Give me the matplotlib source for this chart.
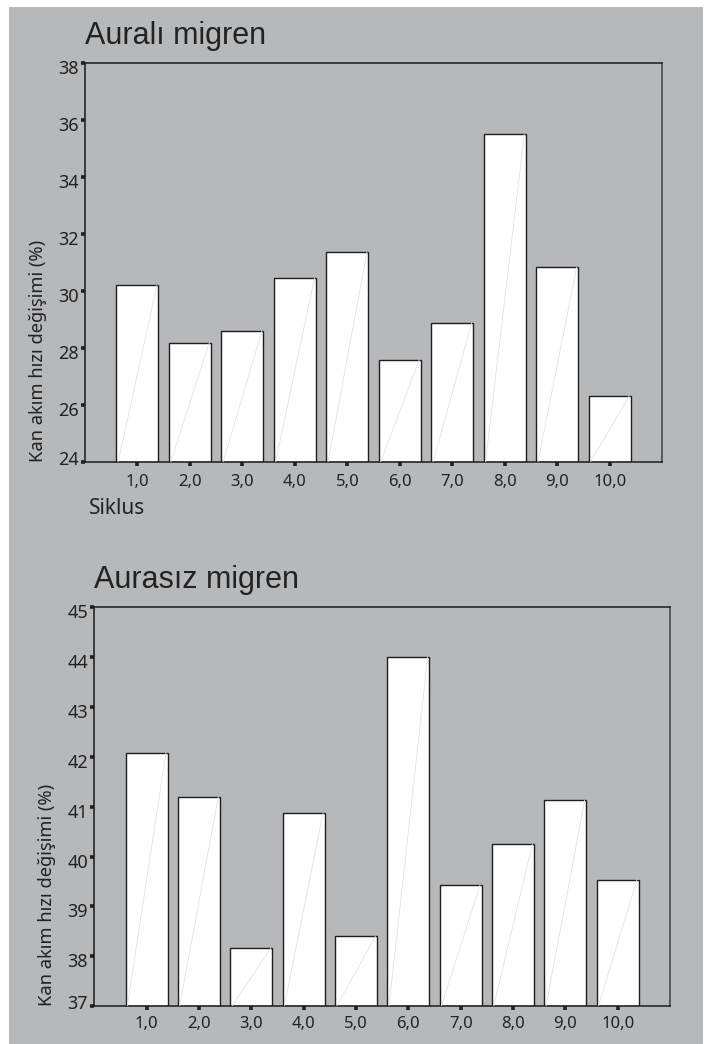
import numpy as np
import matplotlib
matplotlib.use("Agg")
import matplotlib.pyplot as plt
from matplotlib.patches import Rectangle
from matplotlib.transforms import ScaledTranslation

# ---- data ----
cycles = [1, 2, 3, 4, 5, 6, 7, 8, 9, 10]
cycle_labels = ["1,0", "2,0", "3,0", "4,0", "5,0", "6,0", "7,0", "8,0", "9,0", "10,0"]
aural_values = [30.2, 28.2, 28.6, 30.45, 31.36, 27.6, 28.9, 35.5, 30.85, 26.33]
aurasiz_values = [42.08, 41.2, 38.16, 40.87, 38.4, 44.0, 39.43, 40.25, 41.13, 39.54]
aural_yticks = [24, 26, 28, 30, 32, 34, 36, 38]
aurasiz_yticks = [37, 38, 39, 40, 41, 42, 43, 44, 45]
title_top = "Auralı migren"
title_bottom = "Aurasız migren"
ylabel_text = "Kan akım hızı değişimi (%)"
xlabel_text = "Siklus"

W, H = 711, 1044
BG = "#b7b8ba"
fig = plt.figure(figsize=(W / 100, H / 100), dpi=100, facecolor="white")
fig.patches.append(Rectangle((9 / W, 0), (703 - 9) / W, (H - 7) / H,
                             transform=fig.transFigure, facecolor=BG,
                             edgecolor="none", zorder=-10))

TICKFONT = "Noto Sans"


def px_rect(left, top, right, bottom):
    return [left / W, 1 - bottom / H, (right - left) / W, (bottom - top) / H]


def draw_panel(rect, values, yticks, title, xpad, show_xlabel):
    ax = fig.add_axes(rect)
    ax.set_facecolor(BG)
    ymin, ymax = yticks[0], yticks[-1]
    x = np.array(cycles, dtype=float)
    v = np.array(values, dtype=float)
    width = 0.8
    ax.bar(x, v - ymin, bottom=ymin, width=width, color="white",
           edgecolor="#1e1e1e", linewidth=1.0, zorder=2)
    # faint diagonal rendering artefact inside each bar
    for xi, vi in zip(x, v):
        ax.plot([xi - width / 2 + 0.03, xi + width / 2 - 0.03], [ymin, vi],
                color="#e2e2e2", lw=0.6, zorder=3)
    ax.set_xlim(0, 11)
    ax.set_ylim(ymin, ymax)
    ax.set_xticks(cycles)
    ax.set_xticklabels(cycle_labels)
    ax.set_yticks(yticks)
    ax.set_yticklabels([str(t) for t in yticks])
    for side in ["left", "bottom", "top"]:
        ax.spines[side].set_color("#1a1a1a")
        ax.spines[side].set_linewidth(1.1)
    ax.spines["right"].set_color("#5a5a5a")
    ax.spines["right"].set_linewidth(1.4)
    ax.tick_params(axis="both", direction="out", length=3, width=2.6,
                   color="#202020", labelcolor="#222222")
    ax.tick_params(axis="y", pad=1.5, labelsize=13)
    ax.tick_params(axis="x", pad=xpad, labelsize=12)
    for lbl in ax.get_xticklabels() + ax.get_yticklabels():
        lbl.set_fontfamily(TICKFONT)
    ylabels = ax.get_yticklabels()
    for i, lbl in enumerate(ylabels):
        dy = 4.5 if i == 0 else -4.0
        lbl.set_transform(lbl.get_transform() + ScaledTranslation(0, dy / 100, fig.dpi_scale_trans))
    ax.set_title(title, loc="left", pad=13.5, fontsize=22,
                 fontfamily="Liberation Sans", color="#222222")
    axw = rect[2] * W
    ax.text(-47 / axw, 0.0, ylabel_text, rotation=90, ha="center", va="bottom",
            transform=ax.transAxes, fontsize=13.2, fontfamily=TICKFONT, color="#222222")
    if show_xlabel:
        axh = rect[3] * H
        ax.text(4 / axw, -52 / axh, xlabel_text, ha="left", va="baseline",
                transform=ax.transAxes, fontsize=15, fontfamily=TICKFONT, color="#222222")
    return ax


draw_panel(px_rect(85, 63, 662.3, 462.3), aural_values, aural_yticks,
           title_top, 5.5, True)
draw_panel(px_rect(94.3, 607, 670, 1006.3), aurasiz_values, aurasiz_yticks,
           title_bottom, 4.0, False)

fig.savefig("out.png", dpi=100, facecolor="white")
